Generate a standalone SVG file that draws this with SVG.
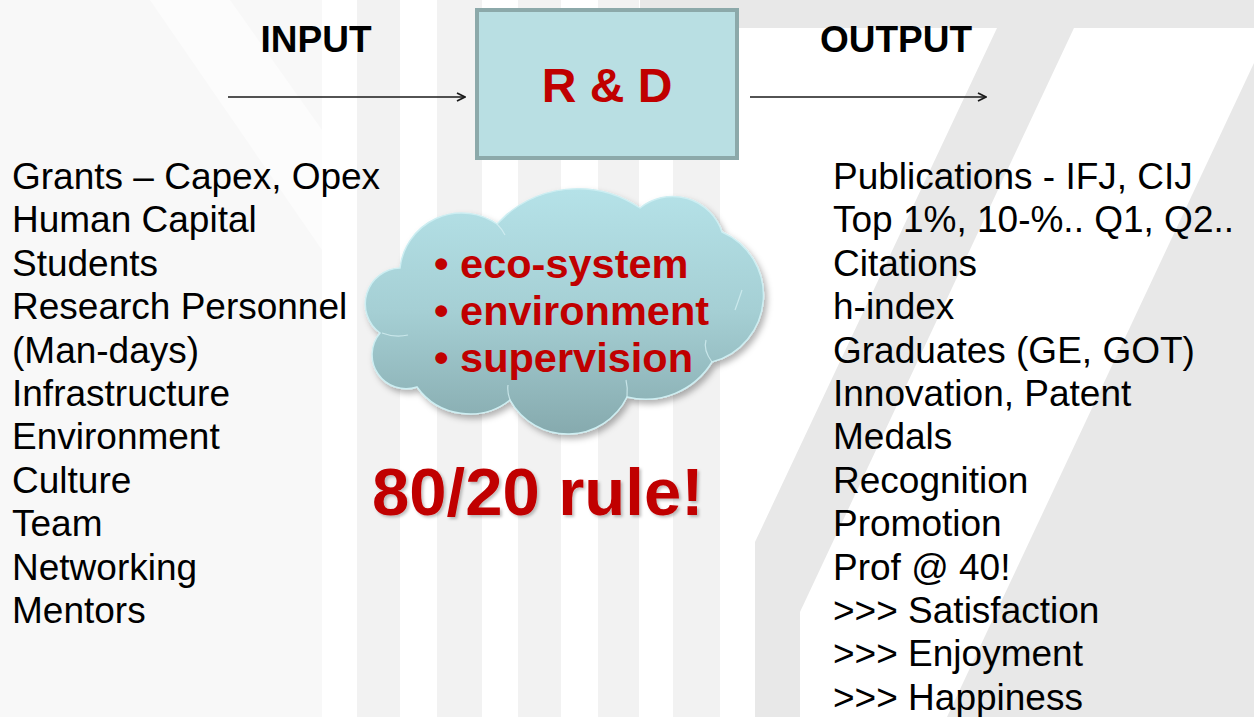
<svg xmlns="http://www.w3.org/2000/svg" width="1254" height="717" viewBox="0 0 1254 717">
  <style>
    .list { font-family: "Liberation Sans", Arial, sans-serif; font-size: 37px; fill: #000; }
    .head { font-family: "Liberation Sans", Arial, sans-serif; font-size: 37px; font-weight: bold; fill: #000; text-anchor: middle; }
    .red { font-family: "Liberation Sans", Arial, sans-serif; font-weight: bold; fill: #c00000; }
    .conn { stroke: #1a1a1a; stroke-width: 1.6; fill: none; }
    .bg1 { fill: #f8f8f8; }
    .stripe { fill: #f2f2f2; }
    .bg2 { fill: #e8e8e8; }
    .white { fill: #ffffff; }
  </style>
  <defs>
    <marker id="open" viewBox="0 0 10 10" refX="9" refY="5" markerWidth="10" markerHeight="10" markerUnits="userSpaceOnUse" orient="auto">
      <path d="M1,1 L9,5 L1,9" fill="none" stroke="#1a1a1a" stroke-width="1.8"/>
    </marker>
    <linearGradient id="cloudGrad" x1="0" y1="0" x2="0" y2="1">
      <stop offset="0" stop-color="#b5e2e8"/>
      <stop offset="0.5" stop-color="#a5cfd4"/>
      <stop offset="1" stop-color="#86aaae"/>
    </linearGradient>
    <filter id="shadow" x="-10%" y="-10%" width="130%" height="130%">
      <feDropShadow dx="3" dy="4" stdDeviation="3" flood-color="#000" flood-opacity="0.3"/>
    </filter>
    <filter id="tshadow" x="-5%" y="-10%" width="115%" height="130%">
      <feDropShadow dx="2" dy="2" stdDeviation="1.5" flood-color="#000" flood-opacity="0.25"/>
    </filter>
  </defs>

  <!-- background -->
  <g id="background">
    <rect x="0" y="0" width="1254" height="717" fill="#ffffff"/>
    <rect class="bg1" x="0" y="0" width="322" height="717"/>
    <polygon fill="#fcfcfc" points="150,0 230,0 322,130 322,250"/>
    <rect class="stripe" x="357" y="0" width="43" height="717"/>
    <rect class="stripe" x="437" y="0" width="45" height="717"/>
    <rect class="stripe" x="518" y="0" width="43" height="717"/>
    <rect class="stripe" x="598" y="0" width="41" height="717"/>
    <rect class="stripe" x="673" y="0" width="47" height="717"/>
    <polygon class="bg2" points="640,0 1254,0 1254,717 755,717 755,542 997,28 640,28"/>
    <polygon class="white" points="1074,28 1254,28 1254,63 947,717 800,717 800,612"/>
  </g>

  <!-- connectors -->
  <g id="connectors">
    <line class="conn" x1="228" y1="97" x2="465" y2="97" marker-end="url(#open)"/>
    <line class="conn" x1="750" y1="97" x2="986" y2="97" marker-end="url(#open)"/>
  </g>

  <g id="input-label">
    <text class="head" x="316" y="52">INPUT</text>
  </g>
  <g id="output-label">
    <text class="head" x="896" y="52">OUTPUT</text>
  </g>

  <g id="rd-box">
    <rect x="477" y="10" width="260" height="148" fill="#b9dfe3" stroke="#8ca9aa" stroke-width="4"/>
    <text class="red" x="607" y="102" font-size="48" text-anchor="middle">R &amp; D</text>
  </g>

  <g id="input-list">
    <text class="list" x="12" y="189">
      <tspan x="12" y="189">Grants – Capex, Opex</tspan>
      <tspan x="12" y="232.4">Human Capital</tspan>
      <tspan x="12" y="275.8">Students</tspan>
      <tspan x="12" y="319.2">Research Personnel</tspan>
      <tspan x="12" y="362.6">(Man-days)</tspan>
      <tspan x="12" y="406">Infrastructure</tspan>
      <tspan x="12" y="449.4">Environment</tspan>
      <tspan x="12" y="492.8">Culture</tspan>
      <tspan x="12" y="536.2">Team</tspan>
      <tspan x="12" y="579.6">Networking</tspan>
      <tspan x="12" y="623">Mentors</tspan>
    </text>
  </g>

  <g id="output-list">
    <text class="list" x="833" y="189">
      <tspan x="833" y="189">Publications - IFJ, CIJ</tspan>
      <tspan x="833" y="232.4">Top 1%, 10-%.. Q1, Q2..</tspan>
      <tspan x="833" y="275.8">Citations</tspan>
      <tspan x="833" y="319.2">h-index</tspan>
      <tspan x="833" y="362.6">Graduates (GE, GOT)</tspan>
      <tspan x="833" y="406">Innovation, Patent</tspan>
      <tspan x="833" y="449.4">Medals</tspan>
      <tspan x="833" y="492.8">Recognition</tspan>
      <tspan x="833" y="536.2">Promotion</tspan>
      <tspan x="833" y="579.6">Prof @ 40!</tspan>
      <tspan x="833" y="623">&gt;&gt;&gt; Satisfaction</tspan>
      <tspan x="833" y="666.4">&gt;&gt;&gt; Enjoyment</tspan>
      <tspan x="833" y="709.8">&gt;&gt;&gt; Happiness</tspan>
    </text>
  </g>

  <g id="cloud">
    <path filter="url(#shadow)" fill="url(#cloudGrad)" stroke="#cdeef2" stroke-width="1.5"
      d="M400,268 A62 62 0 0 1 497,224 A110 110 0 0 1 640,208 A52 52 0 0 1 722,232 A69 69 0 0 1 712,362 A78 78 0 0 1 627,397 A66 66 0 0 1 510,400 A65 65 0 0 1 417,387 A34 34 0 0 1 380,333 A36 36 0 0 1 400,268 Z"/>
    <g fill="none" stroke="#d4eff2" stroke-width="1.2" opacity="0.8">
      <path d="M382,333 Q395,338 408,335"/>
      <path d="M510,400 Q507,392 508,385"/>
      <path d="M627,397 Q628,388 626,380"/>
      <path d="M712,362 Q703,350 706,340"/>
      <path d="M742,290 Q738,302 735,310"/>
      <path d="M497,224 Q502,229 505,235"/>
    </g>
    <text class="red" font-size="41.5">
      <tspan x="434" y="278">• eco-system</tspan>
      <tspan x="434" y="325">• environment</tspan>
      <tspan x="434" y="372">• supervision</tspan>
    </text>
  </g>

  <g id="rule">
    <text class="red" x="372" y="515" font-size="67" filter="url(#tshadow)">80/20 rule!</text>
  </g>
</svg>
